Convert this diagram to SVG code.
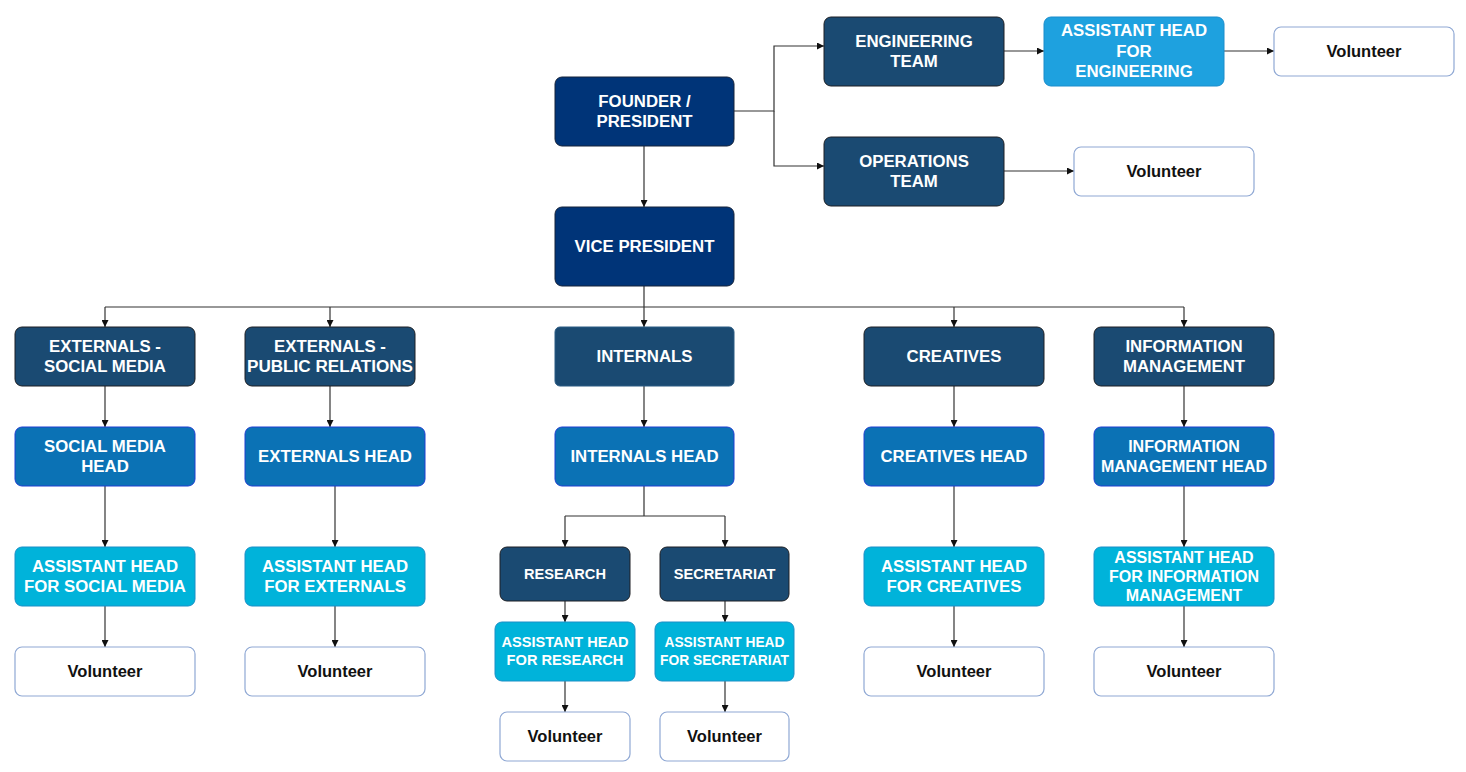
<svg xmlns="http://www.w3.org/2000/svg" width="1466" height="772" viewBox="0 0 1466 772">
<defs>
<style>
.navy{fill:#003478;stroke:#15233a;stroke-width:1}
.team{fill:#1a4a72;stroke:#1c1f24;stroke-width:1}
.head{fill:#0b72b5;stroke:#1f3fd0;stroke-width:1}
.asst{fill:#00b3da;stroke:#1b8fc6;stroke-width:1}
.asste{fill:#1ea1df;stroke:#1a8ccb;stroke-width:1}
.vol{fill:#ffffff;stroke:#8fa8d4;stroke-width:1.2}
text{font-family:"Liberation Sans",Arial,sans-serif;font-weight:bold;text-anchor:middle}
.w{fill:#ffffff;font-size:16.8px}
.b{fill:#111111;font-size:16.5px}
.s{font-size:14.6px}
.xs{font-size:13.8px}
.m{font-size:16px}
.c path{fill:none;stroke:#333333;stroke-width:1.2}
</style>
<marker id="ar" viewBox="0 0 10 10" refX="10" refY="5" markerWidth="7" markerHeight="7" markerUnits="userSpaceOnUse" orient="auto">
<path d="M0,0 L10,5 L0,10 z" fill="#111111"/>
</marker>
</defs>
<rect width="1466" height="772" fill="#ffffff"/>
<g id="connectors" class="c">
<path d="M644,146 V207" marker-end="url(#ar)"/>
<path d="M734,111 H774 V46 H824" marker-end="url(#ar)"/>
<path d="M774,111 V166 H824" marker-end="url(#ar)"/>
<path d="M1004,51 H1044" marker-end="url(#ar)"/>
<path d="M1224,51 H1274" marker-end="url(#ar)"/>
<path d="M1004,171 H1074" marker-end="url(#ar)"/>
<path d="M644,286 V307 M105,307 H1184"/>
<path d="M105,307 V327" marker-end="url(#ar)"/>
<path d="M330,307 V327" marker-end="url(#ar)"/>
<path d="M644,307 V327" marker-end="url(#ar)"/>
<path d="M954,307 V327" marker-end="url(#ar)"/>
<path d="M1184,307 V327" marker-end="url(#ar)"/>
<path d="M105,386 V427" marker-end="url(#ar)"/>
<path d="M330,386 V427" marker-end="url(#ar)"/>
<path d="M644,386 V427" marker-end="url(#ar)"/>
<path d="M954,386 V427" marker-end="url(#ar)"/>
<path d="M1184,386 V427" marker-end="url(#ar)"/>
<path d="M105,486 V547" marker-end="url(#ar)"/>
<path d="M335,486 V547" marker-end="url(#ar)"/>
<path d="M954,486 V547" marker-end="url(#ar)"/>
<path d="M1184,486 V547" marker-end="url(#ar)"/>
<path d="M644,486 V516 M565,516 H725"/>
<path d="M565,516 V547" marker-end="url(#ar)"/>
<path d="M725,516 V547" marker-end="url(#ar)"/>
<path d="M565,601 V622" marker-end="url(#ar)"/>
<path d="M725,601 V622" marker-end="url(#ar)"/>
<path d="M565,681 V712" marker-end="url(#ar)"/>
<path d="M725,681 V712" marker-end="url(#ar)"/>
<path d="M105,606 V647" marker-end="url(#ar)"/>
<path d="M335,606 V647" marker-end="url(#ar)"/>
<path d="M954,606 V647" marker-end="url(#ar)"/>
<path d="M1184,606 V647" marker-end="url(#ar)"/>
</g>
<g id="founder"><rect class="navy" x="555" y="77" width="179" height="69" rx="7"/><text class="w" x="644.5" y="106.8">FOUNDER /</text><text class="w" x="644.5" y="127.4">PRESIDENT</text></g>
<g id="vice-president"><rect class="navy" x="555" y="207" width="179" height="79" rx="7"/><text class="w" x="644.5" y="251.8">VICE PRESIDENT</text></g>
<g id="engineering-team"><rect class="team" x="824" y="17" width="180" height="69" rx="7"/><text class="w" x="914" y="46.8">ENGINEERING</text><text class="w" x="914" y="67.4">TEAM</text></g>
<g id="operations-team"><rect class="team" x="824" y="137" width="180" height="69" rx="7"/><text class="w" x="914" y="166.8">OPERATIONS</text><text class="w" x="914" y="187.4">TEAM</text></g>
<g id="asst-engineering"><rect class="asste" x="1044" y="17" width="180" height="69" rx="7"/><text class="w" x="1134" y="36.3">ASSISTANT HEAD</text><text class="w" x="1134" y="56.6">FOR</text><text class="w" x="1134" y="76.9">ENGINEERING</text></g>
<g id="volunteer-engineering"><rect class="vol" x="1274" y="27" width="180" height="49" rx="7"/><text class="b" x="1364" y="57">Volunteer</text></g>
<g id="volunteer-operations"><rect class="vol" x="1074" y="147" width="180" height="49" rx="7"/><text class="b" x="1164" y="177">Volunteer</text></g>

<g id="externals-social-media"><rect class="team" x="15" y="327" width="180" height="59" rx="7"/><text class="w" x="105" y="351.5">EXTERNALS -</text><text class="w" x="105" y="372.1">SOCIAL MEDIA</text></g>
<g id="externals-public-relations"><rect class="team" x="245" y="327" width="170" height="59" rx="7"/><text class="w" x="330" y="351.5">EXTERNALS -</text><text class="w" x="330" y="372.1" textLength="166" lengthAdjust="spacingAndGlyphs">PUBLIC RELATIONS</text></g>
<g id="internals"><rect class="team" x="555" y="327" width="179" height="59" rx="5" style="stroke:#2a5a82"/><text class="w" x="644.5" y="362">INTERNALS</text></g>
<g id="creatives"><rect class="team" x="864" y="327" width="180" height="59" rx="7"/><text class="w" x="954" y="362">CREATIVES</text></g>
<g id="information-management"><rect class="team" x="1094" y="327" width="180" height="59" rx="7"/><text class="w" x="1184" y="351.5">INFORMATION</text><text class="w" x="1184" y="372.1">MANAGEMENT</text></g>

<g id="social-media-head"><rect class="head" x="15" y="427" width="180" height="59" rx="7"/><text class="w" x="105" y="451.5">SOCIAL MEDIA</text><text class="w" x="105" y="472.1">HEAD</text></g>
<g id="externals-head"><rect class="head" x="245" y="427" width="180" height="59" rx="7"/><text class="w" x="335" y="462">EXTERNALS HEAD</text></g>
<g id="internals-head"><rect class="head" x="555" y="427" width="179" height="59" rx="7"/><text class="w" x="644.5" y="462">INTERNALS HEAD</text></g>
<g id="creatives-head"><rect class="head" x="864" y="427" width="180" height="59" rx="7"/><text class="w" x="954" y="462">CREATIVES HEAD</text></g>
<g id="information-management-head"><rect class="head" x="1094" y="427" width="180" height="59" rx="7"/><text class="w m" x="1184" y="451.6">INFORMATION</text><text class="w m" x="1184" y="472">MANAGEMENT HEAD</text></g>

<g id="asst-social-media"><rect class="asst" x="15" y="547" width="180" height="59" rx="7"/><text class="w" x="105" y="571.5">ASSISTANT HEAD</text><text class="w" x="105" y="592.1">FOR SOCIAL MEDIA</text></g>
<g id="asst-externals"><rect class="asst" x="245" y="547" width="180" height="59" rx="7"/><text class="w" x="335" y="571.5">ASSISTANT HEAD</text><text class="w" x="335" y="592.1">FOR EXTERNALS</text></g>
<g id="asst-creatives"><rect class="asst" x="864" y="547" width="180" height="59" rx="7"/><text class="w" x="954" y="571.5">ASSISTANT HEAD</text><text class="w" x="954" y="592.1">FOR CREATIVES</text></g>
<g id="asst-information-management"><rect class="asst" x="1094" y="547" width="180" height="59" rx="7"/><text class="w m" x="1184" y="563">ASSISTANT HEAD</text><text class="w m" x="1184" y="581.8">FOR INFORMATION</text><text class="w m" x="1184" y="600.6">MANAGEMENT</text></g>

<g id="research"><rect class="team" x="500" y="547" width="130" height="54" rx="7"/><text class="w s" x="565" y="579">RESEARCH</text></g>
<g id="secretariat"><rect class="team" x="660" y="547" width="129" height="54" rx="7"/><text class="w s" x="724.5" y="579">SECRETARIAT</text></g>
<g id="asst-research"><rect class="asst" x="495" y="622" width="140" height="59" rx="7"/><text class="w s" x="565" y="647">ASSISTANT HEAD</text><text class="w s" x="565" y="665.3">FOR RESEARCH</text></g>
<g id="asst-secretariat"><rect class="asst" x="655" y="622" width="139" height="59" rx="7"/><text class="w xs" x="724.5" y="647">ASSISTANT HEAD</text><text class="w xs" x="724.5" y="665.3">FOR SECRETARIAT</text></g>

<g id="volunteer-social-media"><rect class="vol" x="15" y="647" width="180" height="49" rx="7"/><text class="b" x="105" y="677">Volunteer</text></g>
<g id="volunteer-externals"><rect class="vol" x="245" y="647" width="180" height="49" rx="7"/><text class="b" x="335" y="677">Volunteer</text></g>
<g id="volunteer-research"><rect class="vol" x="500" y="712" width="130" height="49" rx="7"/><text class="b" x="565" y="742">Volunteer</text></g>
<g id="volunteer-secretariat"><rect class="vol" x="660" y="712" width="129" height="49" rx="7"/><text class="b" x="724.5" y="742">Volunteer</text></g>
<g id="volunteer-creatives"><rect class="vol" x="864" y="647" width="180" height="49" rx="7"/><text class="b" x="954" y="677">Volunteer</text></g>
<g id="volunteer-information-management"><rect class="vol" x="1094" y="647" width="180" height="49" rx="7"/><text class="b" x="1184" y="677">Volunteer</text></g>
</svg>
